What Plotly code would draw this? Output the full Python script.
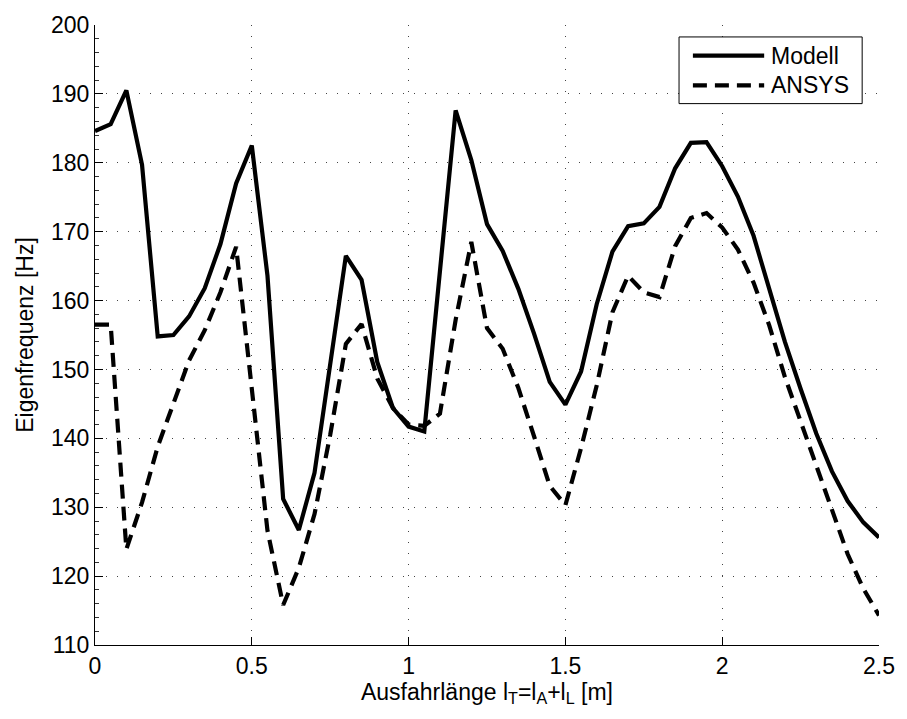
import plotly.graph_objects as go

# Ausfahrlänge in 5 cm steps
laenge = [round(0.05 * i, 2) for i in range(51)]

# Eigenfrequenz, analytisches Modell [Hz]
f_modell = [
    184.6, 185.6, 190.5, 179.7, 154.8, 155.0, 157.7, 161.8, 168.2, 177.0,
    182.5, 163.6, 131.2, 126.7, 135.0, 151.0, 166.5, 163.0, 151.1, 144.4,
    141.7, 141.0, 164.5, 187.6, 180.4, 171.1, 167.2, 161.7, 155.2, 148.2,
    144.9, 149.7, 159.5, 167.1, 170.8, 171.2, 173.6, 179.2, 182.9, 183.0,
    179.5, 175.1, 169.4, 161.7, 154.0, 147.2, 140.7, 135.2, 130.9, 127.8,
    125.6,
]

# Eigenfrequenz, FE-Rechnung ANSYS [Hz]
f_ansys = [
    156.5, 156.5, 123.9, 130.7, 138.8, 145.1, 151.3, 155.7, 161.2, 167.8,
    147.2, 126.6, 115.8, 121.2, 129.0, 140.5, 153.7, 156.6, 148.7, 144.4,
    142.0, 141.8, 143.6, 157.2, 168.5, 156.0, 153.0, 147.3, 140.3, 133.1,
    130.3, 138.6, 147.7, 158.3, 163.6, 161.2, 160.5, 167.9, 172.0, 172.7,
    170.6, 167.4, 162.6, 156.4, 148.9, 142.4, 136.0, 129.5, 123.2, 118.2,
    114.3,
]

series_names = ["Modell", "ANSYS"]
x_ticks = [0, 0.5, 1, 1.5, 2, 2.5]
x_ticklabels = ["0", "0.5", "1", "1.5", "2", "2.5"]
y_ticks = list(range(110, 201, 10))

FONT = "Liberation Sans, Arial, Helvetica, sans-serif"
FS = 23
LW = 4.2
DASH = "14px,8px"

W, H = 907, 719
ML, MR, MT, MB = 95, 20, 22, 74
PW, PH = W - ML - MR, H - MT - MB

fig = go.Figure()
fig.add_trace(go.Scatter(x=laenge, y=f_modell, mode="lines", name=series_names[0],
                         line=dict(color="black", width=LW), showlegend=False))
fig.add_trace(go.Scatter(x=laenge, y=f_ansys, mode="lines", name=series_names[1],
                         line=dict(color="black", width=LW, dash=DASH), showlegend=False))

axis_common = dict(
    showline=True, linecolor="black", linewidth=1, mirror=False,
    ticks="inside", ticklen=8, tickcolor="black", tickwidth=1,
    showgrid=True, gridcolor="#444444", gridwidth=1, griddash="1px,10px",
    zeroline=False, tickfont=dict(family=FONT, size=FS, color="black"),
)

fig.update_xaxes(
    range=[0, 2.5], tickvals=x_ticks, ticktext=x_ticklabels,
    title=dict(text="Ausfahrlänge l<sub>T</sub>=l<sub>A</sub>+l<sub>L</sub> [m]",
               font=dict(family=FONT, size=FS, color="black"), standoff=0),
    **axis_common,
)
fig.update_yaxes(
    range=[110, 200], tickvals=y_ticks,
    title=dict(text="Eigenfrequenz [Hz]",
               font=dict(family=FONT, size=FS, color="black"), standoff=10),
    minor=dict(dtick=2, ticks="inside", ticklen=4, tickcolor="#333333", showgrid=False),
    **axis_common,
)


def px_to_paper(px, py):
    return (px - ML) / PW, (H - MB - py) / PH


# legend box drawn in paper coordinates
x0, y0 = px_to_paper(685, 101)
x1, y1 = px_to_paper(870, 34)
shapes = [dict(type="rect", xref="paper", yref="paper", x0=x0, y0=y0, x1=x1, y1=y1,
               line=dict(color="black", width=1), fillcolor="white", layer="above")]
annotations = []
for name, py, dash in [(series_names[0], 52.7, "solid"), (series_names[1], 82.7, DASH)]:
    lx0, ly = px_to_paper(699, py)
    lx1, _ = px_to_paper(771, py)
    shapes.append(dict(type="line", xref="paper", yref="paper", x0=lx0, x1=lx1, y0=ly, y1=ly,
                       line=dict(color="black", width=LW, dash=dash), layer="above"))
    tx, _ = px_to_paper(776, py)
    annotations.append(dict(xref="paper", yref="paper", x=tx, y=ly, text=name, showarrow=False,
                            xanchor="left", yanchor="middle",
                            font=dict(family=FONT, size=FS, color="black")))

fig.update_layout(
    width=W, height=H,
    margin=dict(l=ML, r=MR, t=MT, b=MB),
    paper_bgcolor="white", plot_bgcolor="white",
    font=dict(family=FONT, size=FS, color="black"),
    shapes=shapes, annotations=annotations,
    showlegend=False,
)

fig.write_html("out.html")
